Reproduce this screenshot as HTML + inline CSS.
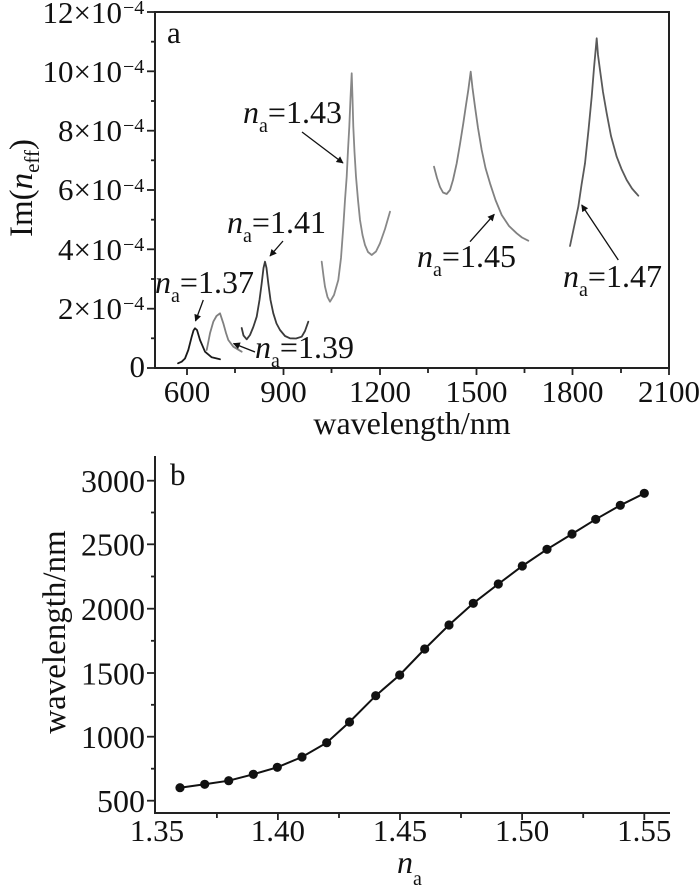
<!DOCTYPE html>
<html><head><meta charset="utf-8"><style>
html,body{margin:0;padding:0;background:#fff;}
svg{display:block;}
text{font-family:"Liberation Serif",serif;fill:#111;}
</style></head><body>
<svg width="700" height="891" viewBox="0 0 700 891" xmlns="http://www.w3.org/2000/svg">
<defs>
<marker id="ah" viewBox="0 0 10 10" refX="9" refY="5" markerWidth="9" markerHeight="7" markerUnits="userSpaceOnUse" orient="auto"><path d="M0,0 L10,5 L0,10 z" fill="#111"/></marker>
</defs>
<rect x="0" y="0" width="700" height="891" fill="#fff"/>

<!-- ===== Panel a ===== -->
<rect x="155" y="12" width="514" height="356" fill="none" stroke="#222" stroke-width="2"/>
<g stroke="#222" stroke-width="1.8">
<line x1="147" y1="12" x2="155" y2="12"/>
<line x1="147" y1="71.3" x2="155" y2="71.3"/>
<line x1="147" y1="130.7" x2="155" y2="130.7"/>
<line x1="147" y1="190" x2="155" y2="190"/>
<line x1="147" y1="249.3" x2="155" y2="249.3"/>
<line x1="147" y1="308.7" x2="155" y2="308.7"/>
<line x1="147" y1="368" x2="155" y2="368"/>
<line x1="151" y1="41.7" x2="155" y2="41.7"/>
<line x1="151" y1="101" x2="155" y2="101"/>
<line x1="151" y1="160.3" x2="155" y2="160.3"/>
<line x1="151" y1="219.7" x2="155" y2="219.7"/>
<line x1="151" y1="279" x2="155" y2="279"/>
<line x1="151" y1="338.3" x2="155" y2="338.3"/>
<line x1="187" y1="368" x2="187" y2="375"/>
<line x1="283.5" y1="368" x2="283.5" y2="375"/>
<line x1="380" y1="368" x2="380" y2="375"/>
<line x1="476.5" y1="368" x2="476.5" y2="375"/>
<line x1="572.5" y1="368" x2="572.5" y2="375"/>
<line x1="669" y1="368" x2="669" y2="375"/>
<line x1="235" y1="368" x2="235" y2="373"/>
<line x1="331.5" y1="368" x2="331.5" y2="373"/>
<line x1="428" y1="368" x2="428" y2="373"/>
<line x1="524.5" y1="368" x2="524.5" y2="373"/>
<line x1="621" y1="368" x2="621" y2="373"/>
</g>
<g font-size="31" text-anchor="end">
<text x="122" y="23">12×10</text>
<text x="122" y="82">10×10</text>
<text x="122" y="141">8×10</text>
<text x="122" y="200">6×10</text>
<text x="122" y="260">4×10</text>
<text x="122" y="319">2×10</text>
<text x="145" y="377">0</text>
</g>
<g font-size="20">
<text x="123" y="14">−4</text>
<text x="123" y="73">−4</text>
<text x="123" y="132">−4</text>
<text x="123" y="192">−4</text>
<text x="123" y="251">−4</text>
<text x="123" y="310">−4</text>
</g>
<g font-size="31" text-anchor="middle">
<text x="187" y="402">600</text>
<text x="283.5" y="402">900</text>
<text x="380" y="402">1200</text>
<text x="476.5" y="402">1500</text>
<text x="572.5" y="402">1800</text>
<text x="669" y="402">2100</text>
</g>
<text x="412" y="434" font-size="32" text-anchor="middle">wavelength/nm</text>
<text transform="translate(32,188) rotate(-90)" font-size="33" text-anchor="middle">Im(<tspan font-style="italic">n</tspan><tspan font-size="21" dy="7">eff</tspan><tspan dy="-7">)</tspan></text>
<text x="167" y="43" font-size="31">a</text>

<g fill="none" stroke-width="1.8" stroke-linejoin="round" stroke-linecap="round">
<polyline stroke="#1a1a1a" points="178,363.3 181.7,361.7 185,358.5 188.3,350 191.7,336.7 193.5,330.5 195,328.3 197,330 200,340 205,351.7 211.7,357.3 220,359.3"/>
<polyline stroke="#808080" points="206.7,350 208.5,341 210,333.3 213.3,321.7 216.5,316 220,313.3 223.3,323.3 226,333 228.3,340 233.3,346.7 241.7,351.7"/>
<polyline stroke="#3a3a3a" points="241.7,328 243.5,335.5 246.7,339.3 250,335 253.3,327 256.7,316.7 259.5,300 261.7,283.3 263.5,268 265,261.7 266.5,268 268.3,283.3 270.5,300 273.3,313.3 276.5,323.5 280,330 285,336 290,338.3 296,338.5 301.7,336.7 305,331 308.3,321.7"/>
<polyline stroke="#888" points="321.7,261.7 323.5,276 325,286.7 327.5,297 330,301.7 334,295 338.3,280 341,258 343.3,226.7 345,200 346.7,176.7 348,150 349.3,126.7 350.5,98 351.7,73.3 352.5,98 353.3,126.7 354.5,152 356,176.7 358,200 360,220 362.5,235 365,245 368,252 371.7,255 376,251.5 380,243.3 385,229 390,211.7"/>
<polyline stroke="#808080" points="434,166.7 437,178 440,187 443,192.5 446.7,194 450,190 453,180 456.7,163.3 460,144 463.3,123.3 466,105 468.3,90 470.7,71.7 472.5,88 475,106.7 478,128 481.7,150 485.5,168 490,183.3 495.5,200 501.7,215 509,226 516.7,233.3 522,237.5 528.3,240.7"/>
<polyline stroke="#5a5a5a" points="570,246 574,227 578.3,206.7 581.5,185 585,163.3 588.5,130 591.7,96.7 594,68 596.7,38.3 598,55 600,70 603,92 606.7,113.3 611,136 616.7,156.7 621.5,169 626.7,180 632,188.5 638.3,195.7"/>
</g>
<g stroke="#111" stroke-width="1.3" marker-end="url(#ah)">
<line x1="203.3" y1="300" x2="195.5" y2="321"/>
<line x1="255" y1="352" x2="233.5" y2="343.5"/>
<line x1="283" y1="241" x2="270" y2="256"/>
<line x1="302" y1="132" x2="343" y2="163"/>
<line x1="470" y1="241.7" x2="494.3" y2="214.3"/>
<line x1="618.3" y1="260" x2="581.7" y2="205"/>
</g>
<g font-size="32">
<text x="155" y="293"><tspan font-style="italic">n</tspan><tspan font-size="20" dy="9">a</tspan><tspan dy="-9">=1.37</tspan></text>
<text x="255" y="358"><tspan font-style="italic">n</tspan><tspan font-size="20" dy="9">a</tspan><tspan dy="-9">=1.39</tspan></text>
<text x="227" y="233"><tspan font-style="italic">n</tspan><tspan font-size="20" dy="9">a</tspan><tspan dy="-9">=1.41</tspan></text>
<text x="243" y="123"><tspan font-style="italic">n</tspan><tspan font-size="20" dy="9">a</tspan><tspan dy="-9">=1.43</tspan></text>
<text x="417" y="267"><tspan font-style="italic">n</tspan><tspan font-size="20" dy="9">a</tspan><tspan dy="-9">=1.45</tspan></text>
<text x="563" y="287"><tspan font-style="italic">n</tspan><tspan font-size="20" dy="9">a</tspan><tspan dy="-9">=1.47</tspan></text>
</g>

<!-- ===== Panel b ===== -->
<g stroke="#222" stroke-width="2">
<line x1="155" y1="456" x2="155" y2="814"/>
<line x1="154" y1="813" x2="670" y2="813"/>
</g>
<g stroke="#222" stroke-width="1.8">
<line x1="147" y1="480.7" x2="155" y2="480.7"/>
<line x1="147" y1="544.3" x2="155" y2="544.3"/>
<line x1="147" y1="608.7" x2="155" y2="608.7"/>
<line x1="147" y1="673" x2="155" y2="673"/>
<line x1="147" y1="736.7" x2="155" y2="736.7"/>
<line x1="147" y1="800.7" x2="155" y2="800.7"/>
<line x1="151" y1="512.5" x2="155" y2="512.5"/>
<line x1="151" y1="576.5" x2="155" y2="576.5"/>
<line x1="151" y1="640.8" x2="155" y2="640.8"/>
<line x1="151" y1="704.8" x2="155" y2="704.8"/>
<line x1="151" y1="768.7" x2="155" y2="768.7"/>
<line x1="277.9" y1="813" x2="277.9" y2="820"/>
<line x1="400" y1="813" x2="400" y2="820"/>
<line x1="522.1" y1="813" x2="522.1" y2="820"/>
<line x1="644.3" y1="813" x2="644.3" y2="820"/>
<line x1="216.9" y1="813" x2="216.9" y2="818"/>
<line x1="339" y1="813" x2="339" y2="818"/>
<line x1="461" y1="813" x2="461" y2="818"/>
<line x1="583.2" y1="813" x2="583.2" y2="818"/>
</g>
<g font-size="32" text-anchor="end">
<text x="145" y="492">3000</text>
<text x="145" y="555.5">2500</text>
<text x="145" y="620">2000</text>
<text x="145" y="684.5">1500</text>
<text x="145" y="748">1000</text>
<text x="145" y="812">500</text>
</g>
<g font-size="31" text-anchor="middle">
<text x="157" y="841">1.35</text>
<text x="277.9" y="841">1.40</text>
<text x="400" y="841">1.45</text>
<text x="522.1" y="841">1.50</text>
<text x="644.3" y="841">1.55</text>
</g>
<text x="397" y="873" font-size="32" font-style="italic">n</text>
<text x="413" y="885" font-size="20">a</text>
<text transform="translate(65,632) rotate(-90)" font-size="33" text-anchor="middle">wavelength/nm</text>
<text x="170" y="485" font-size="31">b</text>

<polyline fill="none" stroke="#111" stroke-width="2" points="180,787.7 204.7,784.3 228.7,780.7 253.3,774.3 277.3,767.3 302,757 326.7,742.7 349.5,722 375.7,695.7 399.7,675 424.7,649 449,625 473.3,603.3 498.3,584 522.3,566 547,549.3 572,534 595.7,519.3 620.3,505.3 644.3,493.3"/>
<g fill="#111">
<circle cx="180" cy="787.7" r="4.6"/>
<circle cx="204.7" cy="784.3" r="4.6"/>
<circle cx="228.7" cy="780.7" r="4.6"/>
<circle cx="253.3" cy="774.3" r="4.6"/>
<circle cx="277.3" cy="767.3" r="4.6"/>
<circle cx="302" cy="757" r="4.6"/>
<circle cx="326.7" cy="742.7" r="4.6"/>
<circle cx="349.5" cy="722" r="4.6"/>
<circle cx="375.7" cy="695.7" r="4.6"/>
<circle cx="399.7" cy="675" r="4.6"/>
<circle cx="424.7" cy="649" r="4.6"/>
<circle cx="449" cy="625" r="4.6"/>
<circle cx="473.3" cy="603.3" r="4.6"/>
<circle cx="498.3" cy="584" r="4.6"/>
<circle cx="522.3" cy="566" r="4.6"/>
<circle cx="547" cy="549.3" r="4.6"/>
<circle cx="572" cy="534" r="4.6"/>
<circle cx="595.7" cy="519.3" r="4.6"/>
<circle cx="620.3" cy="505.3" r="4.6"/>
<circle cx="644.3" cy="493.3" r="4.6"/>
</g>
</svg>
</body></html>
